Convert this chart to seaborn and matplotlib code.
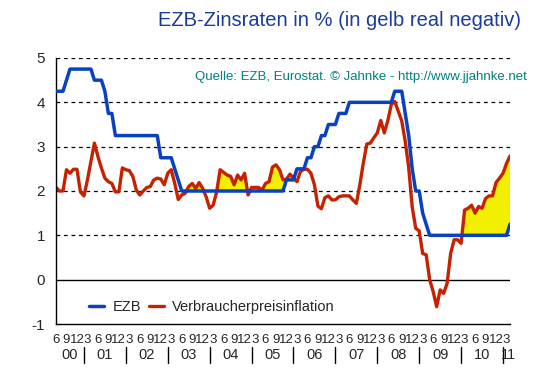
#!/usr/bin/env python3

import numpy as np
import pandas as pd
import seaborn as sns
import matplotlib.pyplot as plt
from matplotlib.transforms import blended_transform_factory

# monthly values, Jun 2000 .. Apr 2011
ezb = [
    4.25, 4.25, 4.25, 4.50, 4.75, 4.75, 4.75, 4.75, 4.75, 4.75, 4.75, 4.50,
    4.50, 4.50, 4.25, 3.75, 3.75, 3.25, 3.25, 3.25, 3.25, 3.25, 3.25, 3.25,
    3.25, 3.25, 3.25, 3.25, 3.25, 3.25, 2.75, 2.75, 2.75, 2.75, 2.50, 2.25,
    2.00, 2.00, 2.00, 2.00, 2.00, 2.00, 2.00, 2.00, 2.00, 2.00, 2.00, 2.00,
    2.00, 2.00, 2.00, 2.00, 2.00, 2.00, 2.00, 2.00, 2.00, 2.00, 2.00, 2.00,
    2.00, 2.00, 2.00, 2.00, 2.00, 2.00, 2.25, 2.25, 2.25, 2.50, 2.50, 2.50,
    2.75, 2.75, 3.00, 3.00, 3.25, 3.25, 3.50, 3.50, 3.50, 3.75, 3.75, 3.75,
    4.00, 4.00, 4.00, 4.00, 4.00, 4.00, 4.00, 4.00, 4.00, 4.00, 4.00, 4.00,
    4.00, 4.25, 4.25, 4.25, 3.75, 3.25, 2.50, 2.00, 2.00, 1.50, 1.25, 1.00,
    1.00, 1.00, 1.00, 1.00, 1.00, 1.00, 1.00, 1.00, 1.00, 1.00, 1.00, 1.00,
    1.00, 1.00, 1.00, 1.00, 1.00, 1.00, 1.00, 1.00, 1.00, 1.00, 1.25,
]
inflation = [
    2.08, 2.00, 2.00, 2.48, 2.40, 2.49, 2.49, 1.98, 1.89, 2.25, 2.67, 3.08,
    2.78, 2.52, 2.29, 2.21, 2.17, 1.98, 1.98, 2.52, 2.48, 2.46, 2.33, 2.02,
    1.91, 2.00, 2.08, 2.10, 2.25, 2.29, 2.27, 2.14, 2.40, 2.48, 2.17, 1.81,
    1.91, 1.95, 2.10, 2.17, 2.06, 2.19, 2.06, 1.87, 1.61, 1.68, 1.98, 2.48,
    2.42, 2.36, 2.33, 2.14, 2.36, 2.25, 2.40, 1.91, 2.08, 2.08, 2.08, 2.02,
    2.17, 2.21, 2.54, 2.59, 2.48, 2.25, 2.27, 2.38, 2.29, 2.21, 2.44, 2.49,
    2.49, 2.40, 2.14, 1.66, 1.60, 1.85, 1.89, 1.80, 1.80, 1.87, 1.89, 1.89,
    1.89, 1.80, 1.72, 2.14, 2.63, 3.06, 3.08, 3.20, 3.31, 3.59, 3.31, 3.58,
    3.95, 4.02, 3.80, 3.58, 3.12, 2.52, 1.64, 1.16, 1.10, 0.59, 0.56, 0.00,
    -0.27, -0.61, -0.23, -0.31, -0.08, 0.59, 0.90, 0.90, 0.82, 1.57, 1.61, 1.68,
    1.50, 1.65, 1.61, 1.83, 1.89, 1.89, 2.19, 2.29, 2.40, 2.62, 2.79,
]
month_labels = ['6', '9', '12', '3']
year_labels = ['00', '01', '02', '03', '04', '05', '06', '07', '08', '09', '10', '11']

monate = np.arange(len(ezb))
df = pd.DataFrame({'monat': monate, 'ezb': ezb, 'inflation': inflation})

sns.set_style('white')
plt.rcParams['font.family'] = ['Liberation Sans', 'DejaVu Sans']
plt.rcParams['axes.unicode_minus'] = False

blau = '#0842c0'
rot = '#c42200'
gelb = '#f2f000'

fig = plt.figure(figsize=(5.53, 3.76), dpi=100)
ax = fig.add_axes([56 / 553, 1 - 324 / 376, 454 / 553, 266 / 376])

ax.fill_between(df['monat'], df['ezb'], df['inflation'],
                where=df['inflation'] > df['ezb'], interpolate=True,
                color=gelb, linewidth=0, zorder=1)
for y in [1, 2, 3, 4, 5]:
    ax.axhline(y, color='black', lw=0.9, ls=(0, (3, 3)), zorder=0)
ax.axhline(0, color='black', lw=1.0, zorder=0)

sns.lineplot(df, x='monat', y='ezb', ax=ax, color=blau, lw=2.5,
             label='EZB', zorder=3)
sns.lineplot(df, x='monat', y='inflation', ax=ax, color=rot, lw=2.4,
             label='Verbraucherpreisinflation', zorder=2)

ax.set_xlim(0, len(ezb) - 1)
ax.set_ylim(-1, 5)
ax.set_yticks([-1, 0, 1, 2, 3, 4, 5])
ax.tick_params(axis='y', length=0, pad=8, labelsize=11)
ax.set_xlabel('')
ax.set_ylabel('')

ticks = monate[::3]
ax.set_xticks(ticks, [month_labels[k % 4] for k in range(len(ticks))])
ax.tick_params(axis='x', length=0, pad=7, labelsize=9.5)

for s in ['top', 'right']:
    ax.spines[s].set_visible(False)
for s in ['left', 'bottom']:
    ax.spines[s].set_color('black')
    ax.spines[s].set_linewidth(1.0)

trans = blended_transform_factory(ax.transData, ax.transAxes)
seps = monate[8::12]
for x in seps:
    ax.plot([x, x], [-0.088, -0.148], transform=trans, color='black',
            lw=1.0, clip_on=False)
mitten = [4] + [x + 6 for x in seps[:-1]] + [129.5]
for x, lab in zip(mitten, year_labels):
    ax.text(x, -0.117, lab, transform=trans, ha='center', va='center',
            fontsize=10.5)

ax.legend(loc='center left', bbox_to_anchor=(33 / 454, 17 / 266), ncol=2,
          frameon=False, fontsize=10.5, handlelength=1.05, handletextpad=0.55,
          columnspacing=0.55, borderpad=0, borderaxespad=0)

fig.text(339 / 553, 1 - 20 / 376, 'EZB-Zinsraten in % (in gelb real negativ)',
         ha='center', va='center', fontsize=14.5, color='#1a3c96')
fig.text(527 / 553, 1 - 77 / 376,
         'Quelle: EZB, Eurostat. © Jahnke - http://www.jjahnke.net',
         ha='right', va='center', fontsize=9.5, color='#008080')

plt.savefig('out.png', dpi=100)
